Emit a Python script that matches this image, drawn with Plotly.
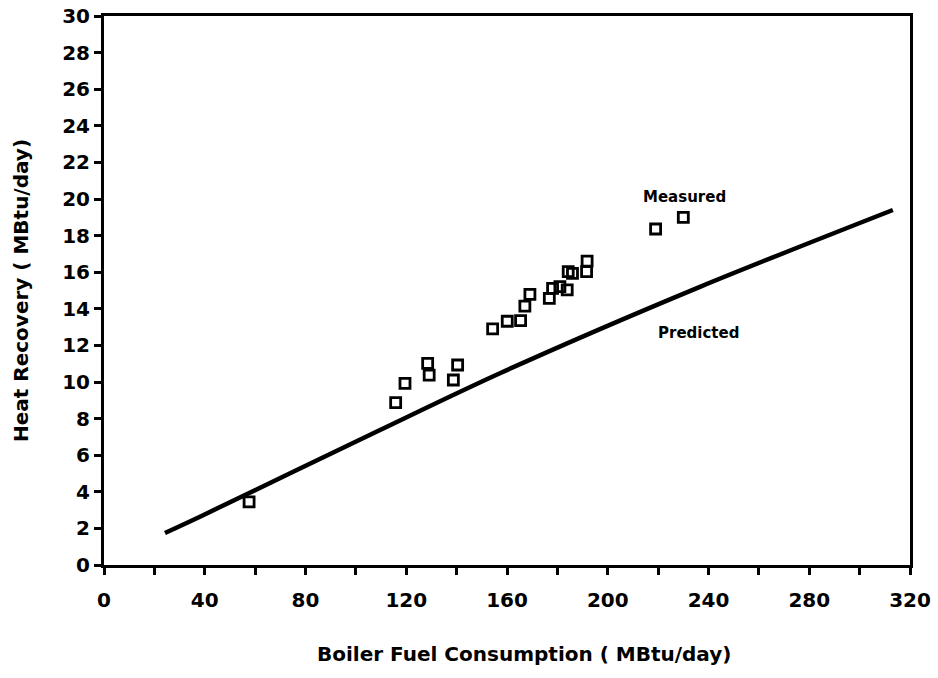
import plotly.graph_objects as go

# Measured heat recovery points (MBtu/day)
measured_x = [57.6, 115.8, 119.5, 128.5, 129.1, 138.7, 140.4, 154.3, 160.1, 165.4,
              167.1, 169.1, 176.8, 178.1, 181.0, 183.9, 184.3, 186.0, 191.6, 191.8,
              219.0, 230.0]
measured_y = [3.45, 8.87, 9.93, 11.02, 10.38, 10.11, 10.93, 12.9, 13.32, 13.35,
              14.15, 14.79, 14.57, 15.12, 15.21, 15.03, 16.03, 15.94, 16.03, 16.61,
              18.36, 19.0]

# Predicted curve
pred_x = [24.2, 38.1, 109.6, 157.2, 236.6, 313.2]
pred_y = [1.75, 2.64, 7.38, 10.48, 15.2, 19.4]

x_ticks = [0, 40, 80, 120, 160, 200, 240, 280, 320]
y_ticks = list(range(0, 31, 2))

font_family = "DejaVu Sans"

fig = go.Figure()
fig.add_trace(go.Scatter(x=pred_x, y=pred_y, mode="lines",
                         line=dict(color="black", width=4.5, shape="spline", smoothing=0.8),
                         showlegend=False, cliponaxis=False))
fig.add_trace(go.Scatter(x=measured_x, y=measured_y, mode="markers",
                         marker=dict(symbol="square-open", size=10, color="black",
                                     line=dict(width=2.8, color="black")),
                         showlegend=False))

fig.add_annotation(x=230.6, y=20.1, text="Measured", showarrow=False,
                   xanchor="center", yanchor="middle",
                   font=dict(size=15, family=font_family, color="black", weight="bold"))
fig.add_annotation(x=236.1, y=12.68, text="Predicted", showarrow=False,
                   xanchor="center", yanchor="middle",
                   font=dict(size=15, family=font_family, color="black", weight="bold"))
# x-axis title (slightly right of centre, as in the original)
fig.add_annotation(xref="paper", yref="paper", x=0.521, y=-0.162,
                   text="Boiler Fuel Consumption ( MBtu/day)", showarrow=False,
                   xanchor="center", yanchor="middle",
                   font=dict(size=20, family=font_family, color="black", weight="bold"))

fig.update_layout(
    width=938, height=678,
    margin=dict(l=104, r=28, t=16, b=113, autoexpand=False),
    paper_bgcolor="white", plot_bgcolor="white",
    font=dict(family=font_family, color="black", size=20, weight="bold"),
    xaxis=dict(range=[0, 320], tickvals=x_ticks, ticktext=[str(v) for v in x_ticks],
               tickfont=dict(size=20, family=font_family, weight="bold"),
               ticklabelstandoff=8, automargin=False,
               showgrid=False, zeroline=False, showline=True, linecolor="black",
               linewidth=3, mirror=True, ticks="outside", ticklen=7, tickwidth=2.5,
               tickcolor="black",
               minor=dict(dtick=20, tick0=0, ticks="outside", ticklen=7, tickwidth=2.5,
                          tickcolor="black", showgrid=False)),
    yaxis=dict(range=[0, 30], tickvals=y_ticks, automargin=False,
               tickfont=dict(size=20, family=font_family, weight="bold"),
               showgrid=False, zeroline=False, showline=True, linecolor="black",
               linewidth=3, mirror=True, ticks="outside", ticklen=7, tickwidth=2.5,
               tickcolor="black",
               title=dict(text="Heat Recovery ( MBtu/day)", standoff=29,
                          font=dict(size=20, family=font_family, weight="bold"))),
)

fig.write_html("out.html")
